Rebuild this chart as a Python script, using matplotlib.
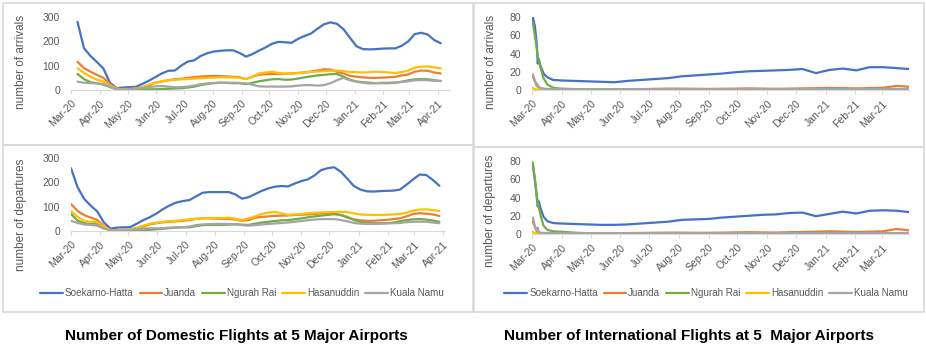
import matplotlib
matplotlib.use('Agg')
import matplotlib.pyplot as plt
import matplotlib.dates as mdates
from matplotlib.patches import Rectangle
import pandas as pd

plt.rcParams['font.family'] = ['Liberation Sans', 'DejaVu Sans']

airports = ['Soekarno-Hatta', 'Juanda', 'Ngurah Rai', 'Hasanuddin', 'Kuala Namu']
colors = ['#4472C4', '#ED7D31', '#70AD47', '#FFC000', '#A5A5A5']

# domestic flights, weekly points (7-day averages)
dom_arr_dates = pd.date_range('2020-03-08', periods=57, freq='7D')
dom_arr_sh = [280, 172, 140, 115, 88, 30, 8, 10, 12, 13,
              25, 38, 53, 68, 79, 80, 100, 117, 122, 140,
              151, 158, 161, 163, 163, 152, 137, 148, 162, 175,
              190, 198, 196, 194, 210, 222, 232, 252, 270, 278,
              272, 250, 215, 180, 168, 167, 168, 170, 171, 171,
              182, 200, 230, 235, 228, 205, 192]
dom_arr_ju = [116, 90, 75, 62, 50, 25, 6, 4, 5, 6,
              10, 18, 30, 35, 40, 44, 46, 50, 53, 55,
              57, 58, 57, 56, 54, 52, 45, 55, 63, 65,
              66, 66, 67, 68, 70, 72, 76, 80, 85, 84,
              75, 68, 58, 55, 52, 50, 50, 51, 52, 54,
              60, 64, 75, 80, 79, 72, 68]
dom_arr_nr = [66, 45, 32, 28, 22, 12, 3, 2, 2, 2,
              2, 3, 3, 4, 5, 6, 7, 10, 14, 20,
              25, 28, 30, 29, 28, 28, 24, 30, 36, 40,
              44, 45, 42, 43, 47, 52, 56, 60, 62, 65,
              66, 55, 42, 35, 32, 30, 28, 28, 28, 30,
              34, 40, 44, 45, 44, 40, 37]
dom_arr_ha = [89, 70, 55, 42, 35, 18, 5, 3, 4, 6,
              12, 22, 30, 36, 40, 42, 44, 45, 47, 48,
              50, 51, 52, 52, 52, 50, 45, 55, 68, 72,
              75, 70, 67, 67, 70, 72, 74, 76, 77, 79,
              80, 78, 74, 73, 72, 73, 75, 74, 72, 70,
              74, 80, 92, 96, 97, 93, 89]
dom_arr_kn = [34, 30, 28, 27, 25, 14, 3, 2, 3, 5,
              8, 12, 15, 16, 14, 11, 12, 14, 18, 24,
              27, 29, 30, 30, 30, 29, 27, 22, 15, 14,
              14, 14, 14, 15, 18, 20, 20, 18, 20, 28,
              40, 50, 40, 34, 30, 27, 28, 30, 30, 31,
              33, 36, 40, 41, 40, 38, 37]

dom_dep_dates = pd.date_range('2020-03-01', periods=57, freq='7D')
dom_dep_sh = [258, 180, 132, 104, 80, 35, 10, 14, 15, 16,
              30, 45, 57, 72, 90, 105, 117, 123, 127, 142,
              157, 160, 160, 160, 160, 150, 133, 139, 152, 165,
              175, 182, 185, 183, 195, 205, 212, 228, 250, 258,
              262, 244, 215, 185, 170, 163, 162, 164, 165, 166,
              170, 190, 212, 232, 230, 210, 186]
dom_dep_ju = [111, 82, 65, 55, 45, 20, 4, 3, 4, 6,
              10, 18, 28, 32, 36, 38, 40, 42, 45, 50,
              52, 52, 51, 50, 50, 47, 42, 45, 55, 58,
              60, 62, 63, 64, 66, 67, 68, 70, 72, 73,
              72, 66, 55, 48, 44, 42, 42, 44, 46, 49,
              52, 60, 70, 73, 71, 68, 62]
dom_dep_nr = [70, 43, 32, 29, 28, 14, 3, 2, 2, 2,
              3, 3, 5, 7, 9, 12, 14, 15, 15, 20,
              24, 25, 25, 25, 26, 28, 26, 25, 30, 35,
              38, 41, 44, 45, 48, 52, 56, 60, 63, 66,
              69, 66, 58, 45, 38, 34, 32, 32, 32, 35,
              40, 45, 48, 49, 47, 43, 38]
dom_dep_ha = [82, 58, 42, 38, 36, 18, 4, 3, 4, 7,
              14, 22, 30, 34, 38, 40, 42, 45, 48, 50,
              52, 53, 53, 53, 55, 50, 45, 52, 60, 70,
              76, 79, 72, 66, 68, 70, 73, 75, 76, 77,
              78, 79, 78, 72, 68, 67, 66, 66, 67, 68,
              70, 75, 84, 88, 89, 86, 82]
dom_dep_kn = [42, 33, 27, 25, 22, 10, 3, 2, 3, 5,
              8, 10, 11, 11, 12, 14, 15, 16, 18, 24,
              27, 28, 29, 29, 29, 27, 24, 22, 24, 27,
              29, 31, 33, 35, 38, 41, 44, 47, 49, 49,
              49, 45, 40, 33, 30, 29, 29, 30, 31, 32,
              33, 36, 38, 38, 38, 35, 32]

# international flights, dense sampling over the early-March collapse
intl_dates = pd.to_datetime([
    '2020-03-01', '2020-03-02', '2020-03-04', '2020-03-06', '2020-03-07',
    '2020-03-08', '2020-03-10', '2020-03-13', '2020-03-17', '2020-03-23',
    '2020-03-31', '2020-04-14', '2020-04-28', '2020-05-12', '2020-05-26',
    '2020-06-09', '2020-06-23', '2020-07-07', '2020-07-21', '2020-08-04',
    '2020-08-18', '2020-09-01', '2020-09-15', '2020-09-29', '2020-10-13',
    '2020-10-27', '2020-11-10', '2020-11-24', '2020-12-08', '2020-12-22',
    '2021-01-05', '2021-01-19', '2021-02-02', '2021-02-16', '2021-03-02',
    '2021-03-16', '2021-03-29'])
intl_arr_sh = [77, 79, 70, 50, 29, 34, 26, 18, 14, 11,
               10.5, 10, 9.5, 9, 8.5, 10, 11, 12, 13, 15,
               16, 17, 18, 19.5, 20.5, 21, 21.5, 22, 23, 18.5,
               22, 23.5, 21.5, 25, 25, 24, 23]
intl_arr_ju = [14, 15, 10, 6, 4, 3, 2, 1, 0.8, 0.5,
               0.5, 0.4, 0.4, 0.4, 0.5, 0.8, 1, 1.2, 1.5, 1.5,
               1.3, 1.2, 1.3, 1.5, 1.8, 1.5, 1.3, 1.5, 1.8, 2,
               2.2, 2, 1.8, 2, 2.5, 4.5, 3.5]
intl_arr_nr = [75, 73, 60, 45, 37, 32, 24, 13, 6, 2.5,
               1.5, 1, 0.7, 0.5, 0.5, 0.4, 0.4, 0.4, 0.3, 0.3,
               0.3, 0.3, 0.3, 0.3, 0.3, 0.3, 0.3, 0.3, 0.3, 0.3,
               0.3, 0.3, 0.3, 0.3, 0.3, 0.3, 0.3]
intl_arr_ha = [2.5, 2, 1, 0.5, 0.4, 0.3, 0.3, 0.2, 0.2, 0.2,
               0.2, 0.2, 0.2, 0.2, 0.2, 0.2, 0.2, 0.2, 0.2, 0.2,
               0.2, 0.2, 0.2, 0.2, 0.2, 0.2, 0.2, 0.2, 0.2, 0.2,
               0.2, 0.2, 0.2, 0.2, 0.2, 0.2, 0.2]
intl_arr_kn = [16, 17, 9, 4, 6, 3, 2, 1.5, 1.2, 1,
               1, 0.9, 0.8, 0.8, 0.8, 0.9, 1, 1, 1, 1,
               1, 1, 1, 1, 1, 1, 1, 1, 1, 1,
               1, 1, 1, 1, 1, 1, 1]

intl_dep_sh = [76, 75, 60, 40, 30, 36, 28, 19, 14, 12,
               11.5, 11, 10.5, 10, 10, 10.5, 11.5, 12.5, 13.5, 15.5,
               16, 16.5, 18, 19, 20, 21, 21.5, 23, 23.5, 19.5,
               22, 24.5, 22.5, 25.5, 26, 25.5, 24]
intl_dep_ju = [14, 13, 8, 3, 2, 1.5, 1, 0.8, 0.6, 0.5,
               0.5, 0.5, 0.5, 0.6, 0.8, 1, 1.2, 1.3, 1.5, 1.5,
               1.3, 1.3, 1.5, 1.8, 2, 1.8, 1.6, 2, 2.2, 2.5,
               3, 2.5, 2.2, 2.5, 3, 5.5, 4]
intl_dep_nr = [80, 77, 60, 42, 35, 30, 20, 9, 4.5, 3,
               2.5, 1.5, 0.8, 0.5, 0.4, 0.4, 0.3, 0.3, 0.3, 0.3,
               0.3, 0.3, 0.3, 0.3, 0.3, 0.3, 0.3, 0.3, 0.3, 0.3,
               0.3, 0.3, 0.3, 0.3, 0.3, 0.3, 0.3]
intl_dep_ha = [2.5, 2, 0.8, 0.4, 0.3, 0.2, 0.2, 0.2, 0.2, 0.2,
               0.2, 0.2, 0.2, 0.2, 0.2, 0.2, 0.2, 0.2, 0.2, 0.2,
               0.2, 0.2, 0.2, 0.2, 0.2, 0.2, 0.2, 0.2, 0.2, 0.2,
               0.2, 0.2, 0.2, 0.2, 0.2, 0.2, 0.2]
intl_dep_kn = [17, 18, 8, 3, 7, 2, 1.5, 1.2, 1, 1,
               1, 1, 1, 1, 1, 1, 1, 1, 1, 1,
               1, 1, 1, 1, 1, 1, 1, 1, 1, 1,
               1, 1, 1, 1, 1, 1, 1]

W, H = 926, 349
GREY_TXT = '#595959'
GREY_LINE = '#d9d9d9'

fig = plt.figure(figsize=(W / 100, H / 100), dpi=100)


def px_axes(x0, y_top, x1, y_bot):
    return fig.add_axes([x0 / W, 1 - y_bot / H, (x1 - x0) / W, (y_bot - y_top) / H])


def style(ax, xlim, ymax, ystep, ylabel, label_xy):
    ax.set_xlim(pd.Timestamp(xlim[0]), pd.Timestamp(xlim[1]))
    ax.set_ylim(0, ymax)
    ax.set_yticks(range(0, ymax + 1, ystep))
    ax.xaxis.set_major_locator(mdates.MonthLocator())
    ax.xaxis.set_major_formatter(mdates.DateFormatter('%b-%y'))
    for s in ['top', 'right', 'left']:
        ax.spines[s].set_visible(False)
    ax.spines['bottom'].set_color(GREY_LINE)
    ax.tick_params(axis='x', colors=GREY_LINE, length=3, width=0.8, labelcolor=GREY_TXT,
                   labelsize=7.5, pad=3)
    ax.tick_params(axis='y', length=0, labelcolor=GREY_TXT, labelsize=7.5, pad=8)
    for lab in ax.get_xticklabels():
        lab.set_rotation(45)
        lab.set_ha('right')
        lab.set_va('top')
        lab.set_rotation_mode('anchor')
    ax.set_ylabel(ylabel, color=GREY_TXT, fontsize=8.5)
    ax.yaxis.set_label_coords(label_xy[0] / W, 1 - label_xy[1] / H, transform=fig.transFigure)
    ax.yaxis.label.set_va('bottom')


def draw(ax, dates, series):
    for vals, c, name in zip(series, colors, airports):
        ax.plot(dates, vals, color=c, lw=1.6, label=name, solid_capstyle='round')


ax_da = px_axes(71, 17, 450, 90)
draw(ax_da, dom_arr_dates, [dom_arr_sh, dom_arr_ju, dom_arr_nr, dom_arr_ha, dom_arr_kn])
style(ax_da, ('2020-03-01', '2021-04-14'), 300, 100, 'number of arrivals', (27, 62))

ax_dd = px_axes(71, 158, 445, 231)
draw(ax_dd, dom_dep_dates, [dom_dep_sh, dom_dep_ju, dom_dep_nr, dom_dep_ha, dom_dep_kn])
style(ax_dd, ('2020-03-01', '2021-04-03'), 300, 100, 'number of departures', (27, 215))

ax_ia = px_axes(532, 17, 909, 90)
draw(ax_ia, intl_dates, [intl_arr_sh, intl_arr_ju, intl_arr_nr, intl_arr_ha, intl_arr_kn])
style(ax_ia, ('2020-03-01', '2021-03-29'), 80, 20, 'number of arrivals', (497, 62))

ax_id = px_axes(532, 161, 909, 234)
draw(ax_id, intl_dates, [intl_dep_sh, intl_dep_ju, intl_dep_nr, intl_dep_ha, intl_dep_kn])
style(ax_id, ('2020-03-01', '2021-03-29'), 80, 20, 'number of departures', (496, 211))

# legends under the departure charts
for ax, cx in [(ax_dd, 242), (ax_id, 706)]:
    leg = ax.legend(loc='center', bbox_to_anchor=(cx / W, 1 - 293 / H),
                    bbox_transform=fig.transFigure, ncol=5, frameon=False,
                    fontsize=7.1, handlelength=2.3, handletextpad=0.2, columnspacing=0.6)
    for t in leg.get_texts():
        t.set_color(GREY_TXT)

# chart frames
for x0, y0, x1, y1 in [(3, 3, 473, 145), (3, 145, 473, 312),
                       (474, 3, 924, 147), (474, 147, 924, 312)]:
    fig.add_artist(Rectangle((x0 / W, 1 - y1 / H), (x1 - x0) / W, (y1 - y0) / H,
                             transform=fig.transFigure, fill=False,
                             edgecolor=GREY_LINE, lw=1.2))

title_font = ['Liberation Sans Narrow', 'Liberation Sans', 'DejaVu Sans']
fig.text(236 / W, 1 - 336 / H, 'Number of Domestic Flights at 5 Major Airports',
         ha='center', va='center', fontsize=11, fontweight='bold', family=title_font)
fig.text(689 / W, 1 - 336 / H, 'Number of International Flights at 5  Major Airports',
         ha='center', va='center', fontsize=11, fontweight='bold', family=title_font)

fig.savefig('out.png', dpi=100, facecolor='white')
